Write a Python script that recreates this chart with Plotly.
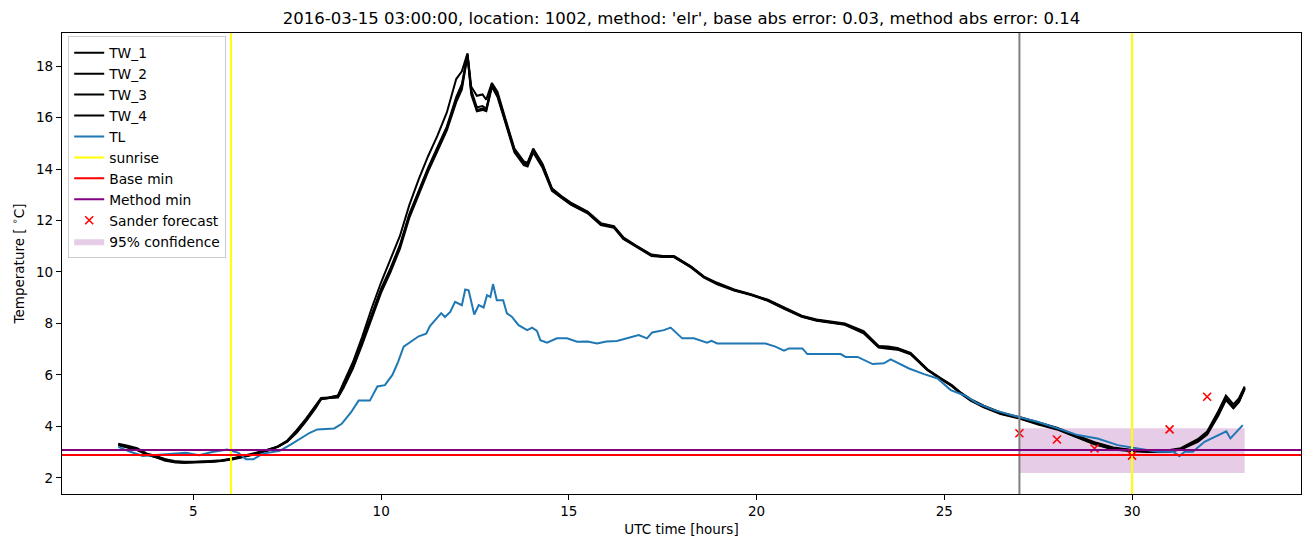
import plotly.graph_objects as go

# ---------------- data ----------------
hours_tw = [3, 3.25, 3.5, 3.75, 4, 4.25, 4.5, 4.75, 5, 5.25, 5.5, 5.75, 6, 6.25, 6.5, 6.75,
            7, 7.25, 7.5, 7.75, 8, 8.25, 8.4, 8.6, 8.85, 9, 9.25, 9.5, 9.75, 10, 10.25, 10.5,
            10.75, 11, 11.25, 11.5, 11.75, 12, 12.15, 12.3, 12.4, 12.55, 12.7, 12.8, 12.95,
            13.1, 13.3, 13.55, 13.8, 13.9, 14.05, 14.3, 14.55, 14.8, 15.05, 15.5, 15.85, 16.2,
            16.45, 16.8, 17.2, 17.5, 17.8, 18.25, 18.6, 18.95, 19.4, 19.85, 20.3, 20.75, 21.2,
            21.6, 22.0, 22.35, 22.85, 23.25, 23.5, 23.75, 24.1, 24.55, 24.9, 25.2, 25.45, 25.7,
            26.05, 26.5, 27, 27.5, 28, 28.5, 29, 29.5, 30, 30.5, 31, 31.3, 31.75, 32, 32.3,
            32.5, 32.7, 32.85, 33]

tw_1 = [3.32, 3.25, 3.15, 2.95, 2.85, 2.72, 2.65, 2.62, 2.62, 2.62, 2.64, 2.66, 2.72, 2.8, 2.88, 2.98,
        3.08, 3.2, 3.4, 3.75, 4.2, 4.7, 5.05, 5.1, 5.15, 5.55, 6.3, 7.3, 8.3, 9.3, 10.1, 11.0,
        12.2, 13.1, 14.0, 14.8, 15.6, 16.7, 17.2, 18.45, 17.0, 16.3, 16.35, 16.3, 17.25,
        16.85, 15.9, 14.7, 14.2, 14.15, 14.7, 14.1, 13.2, 12.9, 12.65, 12.3, 11.85, 11.75,
        11.3, 11.0, 10.65, 10.6, 10.6, 10.2, 9.8, 9.55, 9.3, 9.12, 8.9, 8.58, 8.28,
        8.12, 8.05, 7.97, 7.65, 7.1, 7.07, 7.0, 6.82, 6.2, 5.86, 5.58, 5.28, 5.03,
        4.76, 4.5, 4.32, 4.1, 3.92, 3.62, 3.35, 3.15, 3.07, 3.02, 3.05, 3.12, 3.45, 3.72, 4.5,
        5.1, 4.75, 5.0, 5.5]

tw_2 = [3.3, 3.22, 3.12, 2.92, 2.82, 2.7, 2.62, 2.58, 2.58, 2.6, 2.62, 2.66, 2.7, 2.78, 2.86, 2.96,
        3.06, 3.22, 3.45, 3.85, 4.3, 4.8, 5.1, 5.12, 5.2, 5.7, 6.5, 7.5, 8.6, 9.6, 10.5, 11.4,
        12.6, 13.6, 14.5, 15.3, 16.2, 17.5, 17.8, 18.5, 17.2, 16.85, 16.9, 16.7, 17.35,
        17.0, 16.0, 14.8, 14.3, 14.25, 14.8, 14.2, 13.25, 12.95, 12.7, 12.35, 11.9, 11.78,
        11.35, 11.02, 10.68, 10.62, 10.62, 10.22, 9.82, 9.58, 9.32, 9.14, 8.92, 8.6, 8.3,
        8.15, 8.08, 8.0, 7.7, 7.12, 7.1, 7.05, 6.86, 6.22, 5.88, 5.6, 5.3, 5.06,
        4.8, 4.54, 4.36, 4.14, 3.95, 3.66, 3.38, 3.18, 3.08, 3.04, 3.08, 3.15, 3.5, 3.8, 4.6,
        5.2, 4.85, 5.1, 5.55]

tw_3 = [3.28, 3.2, 3.1, 2.9, 2.8, 2.68, 2.6, 2.58, 2.6, 2.62, 2.65, 2.68, 2.74, 2.82, 2.9, 3.0,
        3.1, 3.22, 3.42, 3.78, 4.22, 4.72, 5.06, 5.1, 5.12, 5.5, 6.25, 7.2, 8.2, 9.2, 10.0, 10.9,
        12.1, 13.0, 13.9, 14.7, 15.5, 16.6, 17.1, 18.4, 16.9, 16.25, 16.3, 16.25, 17.2,
        16.8, 15.85, 14.65, 14.15, 14.1, 14.65, 14.05, 13.15, 12.88, 12.62, 12.28, 11.82, 11.72,
        11.28, 10.98, 10.62, 10.58, 10.58, 10.18, 9.78, 9.52, 9.28, 9.1, 8.88, 8.56, 8.26,
        8.1, 8.03, 7.95, 7.62, 7.06, 7.02, 6.98, 6.8, 6.18, 5.84, 5.56, 5.26, 5.0,
        4.74, 4.48, 4.3, 4.07, 3.88, 3.58, 3.3, 3.1, 3.03, 3.0, 3.02, 3.1, 3.4, 3.68, 4.42,
        5.02, 4.7, 4.95, 5.45]

tw_4 = [3.26, 3.18, 3.08, 2.9, 2.8, 2.66, 2.6, 2.6, 2.6, 2.6, 2.62, 2.65, 2.72, 2.8, 2.88, 2.98,
        3.08, 3.2, 3.42, 3.8, 4.25, 4.75, 5.08, 5.12, 5.18, 5.6, 6.35, 7.35, 8.35, 9.35, 10.15, 11.05,
        12.25, 13.15, 14.05, 14.85, 15.65, 16.8, 17.3, 18.45, 17.05, 16.4, 16.45, 16.35, 17.28,
        16.9, 15.95, 14.75, 14.25, 14.2, 14.75, 14.15, 13.22, 12.92, 12.68, 12.32, 11.87, 11.76,
        11.32, 11.0, 10.66, 10.6, 10.6, 10.2, 9.8, 9.56, 9.3, 9.12, 8.9, 8.58, 8.28,
        8.12, 8.05, 7.97, 7.66, 7.1, 7.05, 7.02, 6.84, 6.2, 5.86, 5.58, 5.28, 5.03,
        4.77, 4.52, 4.33, 4.1, 3.9, 3.6, 3.32, 3.12, 3.05, 3.0, 3.03, 3.12, 3.44, 3.7, 4.48,
        5.08, 4.72, 4.98, 5.48]

hours_tl = [3, 3.3, 3.65, 4.0, 4.3, 4.8, 5.15, 5.5, 5.9, 6.2, 6.4, 6.6, 6.85, 7.3, 7.6, 7.85,
            8.1, 8.3, 8.75, 8.95, 9.2, 9.4, 9.7, 9.9, 10.1, 10.3, 10.45, 10.6, 10.8, 11.0, 11.2,
            11.3, 11.45, 11.6, 11.7, 11.84, 11.97, 12.15, 12.24, 12.33, 12.48, 12.6, 12.73,
            12.82, 12.91, 12.98, 13.08, 13.25, 13.35, 13.48, 13.66, 13.89, 14.02, 14.15, 14.24,
            14.42, 14.68, 14.95, 15.22, 15.5, 15.75, 16.0, 16.28, 16.55, 16.86, 17.08, 17.22,
            17.53, 17.71, 18.02, 18.33, 18.68, 18.8, 18.95, 20.24, 20.5, 20.73, 20.86, 21.22,
            21.35, 22.24, 22.37, 22.69, 23.09, 23.39, 23.57, 23.75, 24.06, 24.46, 24.82, 25.17,
            25.53, 25.88, 26.33, 26.95, 27.48, 28.02, 28.55, 29.08, 29.62, 30.15, 30.68, 31.1,
            31.26, 31.4, 31.62, 31.93, 32.2, 32.51, 32.62, 32.95]

tl = [3.2, 3.02, 2.85, 2.88, 2.9, 2.97, 2.88, 3.0, 3.1, 2.97, 2.72, 2.72, 2.94, 3.05, 3.3, 3.53,
      3.75, 3.88, 3.92, 4.1, 4.55, 5.0, 5.0, 5.55, 5.6, 6.0, 6.5, 7.1, 7.3, 7.5, 7.6,
      7.9, 8.15, 8.4, 8.25, 8.45, 8.84, 8.71, 9.32, 9.29, 8.35, 8.71, 8.62,
      9.1, 9.03, 9.53, 8.9, 8.9, 8.39, 8.26, 7.93, 7.74, 7.84, 7.71, 7.35,
      7.25, 7.42, 7.42, 7.29, 7.3, 7.22, 7.3, 7.32, 7.42, 7.55, 7.42, 7.65,
      7.74, 7.84, 7.42, 7.42, 7.25, 7.32, 7.22, 7.22, 7.1, 6.94, 7.03, 7.03,
      6.81, 6.81, 6.7, 6.7, 6.42, 6.45, 6.6, 6.47, 6.25, 6.03, 5.86, 5.41,
      5.21, 4.89, 4.63, 4.37, 4.18, 3.92, 3.66, 3.53, 3.27, 3.14, 3.01, 3.01,
      2.84, 3.01, 3.01, 3.4, 3.59, 3.81, 3.53, 4.05]

sunrise_hours = [6.0, 30.0]
forecast_start = 27.0
base_min = 2.89
method_min = 3.08

sander_hours = [27, 28, 29, 30, 31, 32]
sander_forecast = [3.73, 3.49, 3.14, 2.86, 3.88, 5.15]

conf_hours = [27.0, 33.0]
conf_lower = [2.19, 2.19]
conf_upper = [3.93, 3.93]

title = "2016-03-15 03:00:00, location: 1002, method: 'elr', base abs error: 0.03, method abs error: 0.14"
x_range = [1.5, 34.5]
y_range = [1.37, 19.29]

# ---------------- figure ----------------
FONT = "DejaVu Sans"
fig = go.Figure()

# confidence band first so it sits beneath the lines; legendrank keeps it last in the legend
band_x = conf_hours + conf_hours[::-1]
band_y = conf_upper + conf_lower[::-1]
fig.add_trace(go.Scatter(x=band_x, y=band_y, mode="lines", fill="toself", name="95% confidence",
                         fillcolor="rgba(128,0,128,0.2)", line=dict(width=0),
                         hoverinfo="skip", legendrank=10))

rank = 1
for name, vals in [("TW_1", tw_1), ("TW_2", tw_2), ("TW_3", tw_3), ("TW_4", tw_4)]:
    fig.add_trace(go.Scatter(x=hours_tw, y=vals, mode="lines", name=name,
                             line=dict(color="black", width=2), legendrank=rank))
    rank += 1
fig.add_trace(go.Scatter(x=hours_tl, y=tl, mode="lines", name="TL",
                         line=dict(color="#1f77b4", width=2), legendrank=5))

# legend entries for reference lines (the lines themselves are drawn as shapes)
fig.add_trace(go.Scatter(x=[None], y=[None], mode="lines", name="sunrise",
                         line=dict(color="yellow", width=2), legendrank=6))
fig.add_trace(go.Scatter(x=[None], y=[None], mode="lines", name="Base min",
                         line=dict(color="red", width=2), legendrank=7))
fig.add_trace(go.Scatter(x=[None], y=[None], mode="lines", name="Method min",
                         line=dict(color="purple", width=2), legendrank=8))
fig.add_trace(go.Scatter(x=sander_hours, y=sander_forecast, mode="markers", name="Sander forecast",
                         marker=dict(symbol="x-thin", size=8, color="red",
                                     line=dict(color="red", width=1.6)), legendrank=9))

shapes = []
for h in sunrise_hours:
    shapes.append(dict(type="line", xref="x", yref="paper", x0=h, x1=h, y0=0, y1=1,
                       line=dict(color="yellow", width=2), layer="above"))
shapes.append(dict(type="line", xref="x", yref="paper", x0=forecast_start, x1=forecast_start,
                   y0=0, y1=1, line=dict(color="gray", width=2), layer="above"))
shapes.append(dict(type="line", xref="paper", yref="y", x0=0, x1=1, y0=base_min, y1=base_min,
                   line=dict(color="red", width=2), layer="above"))
shapes.append(dict(type="line", xref="paper", yref="y", x0=0, x1=1, y0=method_min, y1=method_min,
                   line=dict(color="purple", width=2), layer="above"))

axis_common = dict(showgrid=False, zeroline=False, showline=True, linecolor="black", linewidth=1.2,
                   mirror=True, ticks="outside", ticklen=5, tickwidth=1.2, tickcolor="black",
                   tickfont=dict(family=FONT, size=13.5, color="black"))

fig.update_layout(
    width=1311, height=547,
    margin=dict(l=62, r=10, t=33, b=53),
    paper_bgcolor="white", plot_bgcolor="white",
    shapes=shapes,
    title=dict(text=title, x=0.5, xref="paper", y=1 - 18 / 547, yref="container",
               xanchor="center", yanchor="middle",
               font=dict(family=FONT, size=16.5, color="black")),
    xaxis=dict(range=x_range, tickvals=[5, 10, 15, 20, 25, 30],
               title=dict(text="UTC time [hours]", font=dict(family=FONT, size=13.5, color="black"),
                          standoff=6),
               **axis_common),
    yaxis=dict(range=y_range, tickvals=[2, 4, 6, 8, 10, 12, 14, 16, 18],
               title=dict(text="Temperature [ <sup>∘</sup>C]",
                          font=dict(family=FONT, size=13.5, color="black"), standoff=8),
               **axis_common),
    legend=dict(x=0.005, y=0.993, xanchor="left", yanchor="top",
                bgcolor="rgba(255,255,255,0.8)", bordercolor="#cccccc", borderwidth=1,
                font=dict(family=FONT, size=13.8, color="black"), itemwidth=30,
                tracegroupgap=0, traceorder="normal"),
    showlegend=True,
)

fig.write_html("out.html")
